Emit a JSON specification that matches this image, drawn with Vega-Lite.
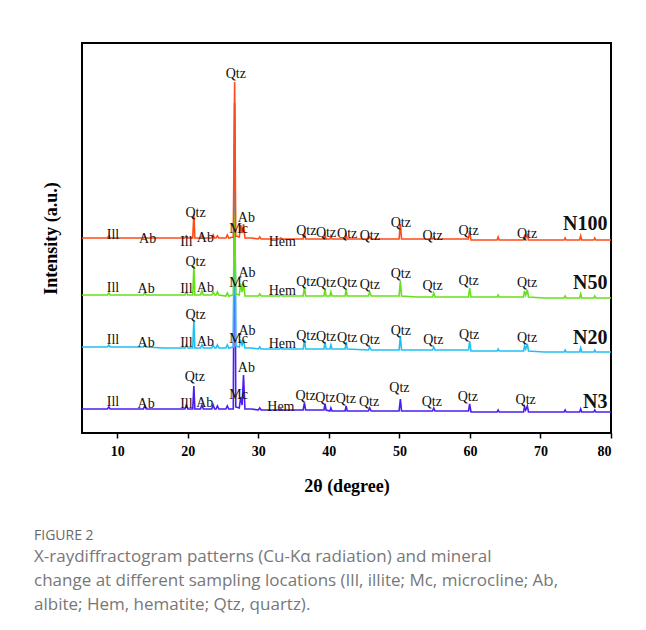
{
  "$schema": "https://vega.github.io/schema/vega-lite/v6.json",
  "width": 529,
  "height": 390,
  "autosize": {"type": "none"},
  "padding": {"left": 82, "top": 43, "right": 35, "bottom": 197},
  "background": "white",
  "config": {
    "view": {"stroke": "black", "strokeWidth": 2},
    "font": "Liberation Serif"
  },
  "title": {
    "text": "FIGURE 2",
    "subtitle": [
      "X-raydiffractogram patterns (Cu-Kα radiation) and mineral",
      "change at different sampling locations (Ill, illite; Mc, microcline; Ab,",
      "albite; Hem, hematite; Qtz, quartz)."
    ],
    "orient": "bottom",
    "anchor": "start",
    "frame": "group",
    "dx": -48,
    "offset": 34,
    "font": "Open Sans",
    "fontSize": 14,
    "fontWeight": "normal",
    "color": "#6a6a6a",
    "subtitleFont": "Open Sans",
    "subtitleFontSize": 17,
    "subtitleColor": "#777777",
    "subtitleLineHeight": 24,
    "subtitlePadding": 6
  },
  "datasets": {
    "xrd": [
      {"x": 5.0, "N3": 24, "N20": 86, "N50": 138, "N100": 195},
      {"x": 7.0, "N3": 24, "N20": 86, "N50": 138, "N100": 195},
      {"x": 8.6, "N3": 24, "N20": 86, "N50": 138, "N100": 195},
      {"x": 8.8, "N3": 26, "N20": 88, "N50": 140, "N100": 197},
      {"x": 9.0, "N3": 24, "N20": 86, "N50": 138, "N100": 195},
      {"x": 11.5, "N3": 24, "N20": 86, "N50": 138, "N100": 195},
      {"x": 13.7, "N3": 24, "N20": 86, "N50": 138, "N100": 195},
      {"x": 13.9, "N3": 27, "N20": 88, "N50": 140, "N100": 196},
      {"x": 14.1, "N3": 24, "N20": 86, "N50": 138, "N100": 195},
      {"x": 16.5, "N3": 24, "N20": 85, "N50": 138, "N100": 195},
      {"x": 19.6, "N3": 24, "N20": 85, "N50": 138, "N100": 195},
      {"x": 19.8, "N3": 28, "N20": 88, "N50": 141, "N100": 197},
      {"x": 20.0, "N3": 24, "N20": 85, "N50": 138, "N100": 195},
      {"x": 20.7, "N3": 24, "N20": 85, "N50": 138, "N100": 195},
      {"x": 20.86, "N3": 47, "N20": 113, "N50": 167, "N100": 219},
      {"x": 21.0, "N3": 24, "N20": 85, "N50": 138, "N100": 195},
      {"x": 21.8, "N3": 24, "N20": 85, "N50": 138, "N100": 195},
      {"x": 22.0, "N3": 28, "N20": 88, "N50": 142, "N100": 197},
      {"x": 22.2, "N3": 24, "N20": 85, "N50": 138, "N100": 195},
      {"x": 23.4, "N3": 24, "N20": 85, "N50": 138, "N100": 195},
      {"x": 23.6, "N3": 28, "N20": 88, "N50": 141, "N100": 198},
      {"x": 23.8, "N3": 24, "N20": 85, "N50": 138, "N100": 195},
      {"x": 24.0, "N3": 24, "N20": 85, "N50": 138, "N100": 195},
      {"x": 24.2, "N3": 27, "N20": 88, "N50": 141, "N100": 197},
      {"x": 24.4, "N3": 24, "N20": 85, "N50": 138, "N100": 195},
      {"x": 25.4, "N3": 24, "N20": 85, "N50": 137, "N100": 195},
      {"x": 25.6, "N3": 27, "N20": 88, "N50": 140, "N100": 198},
      {"x": 25.8, "N3": 24, "N20": 85, "N50": 137, "N100": 195},
      {"x": 26.45, "N3": 24, "N20": 86, "N50": 138, "N100": 196},
      {"x": 26.64, "N3": 330, "N20": 275, "N50": 220, "N100": 351},
      {"x": 26.8, "N3": 26, "N20": 87, "N50": 139, "N100": 197},
      {"x": 27.3, "N3": 25, "N20": 86, "N50": 138, "N100": 196},
      {"x": 27.5, "N3": 36, "N20": 93, "N50": 149, "N100": 208},
      {"x": 27.7, "N3": 28, "N20": 88, "N50": 141, "N100": 200},
      {"x": 27.9, "N3": 58, "N20": 93, "N50": 150, "N100": 209},
      {"x": 28.1, "N3": 24, "N20": 85, "N50": 137, "N100": 195},
      {"x": 29.0, "N3": 24, "N20": 85, "N50": 137, "N100": 195},
      {"x": 30.0, "N3": 23, "N20": 84, "N50": 137, "N100": 194},
      {"x": 30.2, "N3": 25, "N20": 86, "N50": 139, "N100": 196},
      {"x": 30.4, "N3": 23, "N20": 84, "N50": 137, "N100": 194},
      {"x": 33.0, "N3": 23, "N20": 84, "N50": 137, "N100": 194},
      {"x": 33.2, "N3": 24, "N20": 85, "N50": 138, "N100": 195},
      {"x": 33.4, "N3": 23, "N20": 84, "N50": 137, "N100": 194},
      {"x": 35.0, "N3": 23, "N20": 84, "N50": 137, "N100": 194},
      {"x": 36.35, "N3": 23, "N20": 84, "N50": 137, "N100": 194},
      {"x": 36.54, "N3": 30, "N20": 93, "N50": 146, "N100": 200},
      {"x": 36.7, "N3": 23, "N20": 84, "N50": 137, "N100": 194},
      {"x": 39.3, "N3": 23, "N20": 84, "N50": 137, "N100": 194},
      {"x": 39.46, "N3": 29, "N20": 91, "N50": 144, "N100": 198},
      {"x": 39.6, "N3": 23, "N20": 84, "N50": 137, "N100": 194},
      {"x": 40.15, "N3": 22, "N20": 84, "N50": 137, "N100": 194},
      {"x": 40.29, "N3": 25, "N20": 88, "N50": 141, "N100": 197},
      {"x": 40.45, "N3": 22, "N20": 84, "N50": 137, "N100": 194},
      {"x": 42.3, "N3": 22, "N20": 84, "N50": 137, "N100": 194},
      {"x": 42.45, "N3": 27, "N20": 91, "N50": 144, "N100": 198},
      {"x": 42.6, "N3": 22, "N20": 84, "N50": 137, "N100": 194},
      {"x": 45.6, "N3": 22, "N20": 83, "N50": 137, "N100": 194},
      {"x": 45.79, "N3": 25, "N20": 86, "N50": 141, "N100": 196},
      {"x": 46.0, "N3": 22, "N20": 83, "N50": 137, "N100": 194},
      {"x": 48.0, "N3": 22, "N20": 83, "N50": 137, "N100": 194},
      {"x": 49.95, "N3": 22, "N20": 83, "N50": 137, "N100": 194},
      {"x": 50.14, "N3": 34, "N20": 97, "N50": 152, "N100": 209},
      {"x": 50.3, "N3": 22, "N20": 83, "N50": 137, "N100": 194},
      {"x": 52.5, "N3": 22, "N20": 83, "N50": 136, "N100": 194},
      {"x": 54.7, "N3": 22, "N20": 83, "N50": 136, "N100": 194},
      {"x": 54.87, "N3": 25, "N20": 86, "N50": 140, "N100": 196},
      {"x": 55.05, "N3": 22, "N20": 83, "N50": 136, "N100": 194},
      {"x": 57.5, "N3": 22, "N20": 83, "N50": 136, "N100": 194},
      {"x": 59.8, "N3": 22, "N20": 83, "N50": 136, "N100": 194},
      {"x": 59.96, "N3": 29, "N20": 92, "N50": 145, "N100": 202},
      {"x": 60.15, "N3": 21, "N20": 82, "N50": 136, "N100": 193},
      {"x": 62.0, "N3": 21, "N20": 82, "N50": 136, "N100": 193},
      {"x": 63.85, "N3": 21, "N20": 82, "N50": 136, "N100": 193},
      {"x": 64.0, "N3": 23, "N20": 84, "N50": 138, "N100": 196},
      {"x": 64.15, "N3": 21, "N20": 82, "N50": 136, "N100": 193},
      {"x": 66.0, "N3": 21, "N20": 82, "N50": 136, "N100": 193},
      {"x": 67.6, "N3": 21, "N20": 82, "N50": 136, "N100": 193},
      {"x": 67.74, "N3": 26, "N20": 87, "N50": 142, "N100": 197},
      {"x": 67.9, "N3": 23, "N20": 84, "N50": 138, "N100": 195},
      {"x": 68.14, "N3": 27, "N20": 89, "N50": 143, "N100": 198},
      {"x": 68.3, "N3": 21, "N20": 82, "N50": 136, "N100": 193},
      {"x": 70.5, "N3": 21, "N20": 81, "N50": 135, "N100": 193},
      {"x": 73.35, "N3": 21, "N20": 81, "N50": 135, "N100": 193},
      {"x": 73.5, "N3": 23, "N20": 83, "N50": 137, "N100": 195},
      {"x": 73.65, "N3": 21, "N20": 81, "N50": 135, "N100": 193},
      {"x": 75.55, "N3": 21, "N20": 81, "N50": 135, "N100": 193},
      {"x": 75.7, "N3": 24, "N20": 85, "N50": 139, "N100": 197},
      {"x": 75.85, "N3": 21, "N20": 81, "N50": 135, "N100": 193},
      {"x": 77.55, "N3": 21, "N20": 81, "N50": 135, "N100": 193},
      {"x": 77.7, "N3": 23, "N20": 83, "N50": 137, "N100": 195},
      {"x": 77.85, "N3": 21, "N20": 81, "N50": 135, "N100": 193},
      {"x": 80.0, "N3": 21, "N20": 81, "N50": 135, "N100": 193}
    ],
    "labels": [
      {"x": 26.8, "y": 359, "t": "Qtz"},
      {"x": 21.1, "y": 220, "t": "Qtz"},
      {"x": 28.3, "y": 215, "t": "Ab"},
      {"x": 27.2, "y": 204, "t": "Mc"},
      {"x": 9.4, "y": 198, "t": "Ill"},
      {"x": 14.3, "y": 194, "t": "Ab"},
      {"x": 19.8, "y": 191, "t": "Ill"},
      {"x": 22.5, "y": 195, "t": "Ab"},
      {"x": 33.4, "y": 191, "t": "Hem"},
      {"x": 36.8, "y": 202, "t": "Qtz"},
      {"x": 39.6, "y": 200, "t": "Qtz"},
      {"x": 42.6, "y": 199, "t": "Qtz"},
      {"x": 45.8, "y": 197, "t": "Qtz"},
      {"x": 50.2, "y": 210, "t": "Qtz"},
      {"x": 54.7, "y": 197, "t": "Qtz"},
      {"x": 59.8, "y": 202, "t": "Qtz"},
      {"x": 68.1, "y": 199, "t": "Qtz"},
      {"x": 21.1, "y": 171, "t": "Qtz"},
      {"x": 9.4, "y": 145, "t": "Ill"},
      {"x": 14.1, "y": 144, "t": "Ab"},
      {"x": 19.8, "y": 144, "t": "Ill"},
      {"x": 22.5, "y": 145, "t": "Ab"},
      {"x": 27.2, "y": 150, "t": "Mc"},
      {"x": 28.4, "y": 160, "t": "Ab"},
      {"x": 33.4, "y": 142, "t": "Hem"},
      {"x": 36.8, "y": 151, "t": "Qtz"},
      {"x": 39.6, "y": 150, "t": "Qtz"},
      {"x": 42.6, "y": 150, "t": "Qtz"},
      {"x": 45.8, "y": 148, "t": "Qtz"},
      {"x": 50.2, "y": 159, "t": "Qtz"},
      {"x": 54.7, "y": 147, "t": "Qtz"},
      {"x": 59.8, "y": 152, "t": "Qtz"},
      {"x": 68.1, "y": 150, "t": "Qtz"},
      {"x": 21.1, "y": 118, "t": "Qtz"},
      {"x": 9.4, "y": 93, "t": "Ill"},
      {"x": 14.1, "y": 90, "t": "Ab"},
      {"x": 19.8, "y": 90, "t": "Ill"},
      {"x": 22.5, "y": 91, "t": "Ab"},
      {"x": 27.2, "y": 94, "t": "Mc"},
      {"x": 28.4, "y": 102, "t": "Ab"},
      {"x": 33.4, "y": 89, "t": "Hem"},
      {"x": 36.8, "y": 97, "t": "Qtz"},
      {"x": 39.6, "y": 96, "t": "Qtz"},
      {"x": 42.6, "y": 95, "t": "Qtz"},
      {"x": 45.8, "y": 93, "t": "Qtz"},
      {"x": 50.2, "y": 102, "t": "Qtz"},
      {"x": 54.8, "y": 93, "t": "Qtz"},
      {"x": 59.9, "y": 98, "t": "Qtz"},
      {"x": 68.1, "y": 95, "t": "Qtz"},
      {"x": 21.0, "y": 56, "t": "Qtz"},
      {"x": 9.4, "y": 31, "t": "Ill"},
      {"x": 14.1, "y": 29, "t": "Ab"},
      {"x": 19.8, "y": 29, "t": "Ill"},
      {"x": 22.4, "y": 30, "t": "Ab"},
      {"x": 27.2, "y": 38, "t": "Mc"},
      {"x": 28.3, "y": 65, "t": "Ab"},
      {"x": 33.2, "y": 26, "t": "Hem"},
      {"x": 36.7, "y": 37, "t": "Qtz"},
      {"x": 39.5, "y": 35, "t": "Qtz"},
      {"x": 42.4, "y": 34, "t": "Qtz"},
      {"x": 45.7, "y": 31, "t": "Qtz"},
      {"x": 50.0, "y": 45, "t": "Qtz"},
      {"x": 54.6, "y": 31, "t": "Qtz"},
      {"x": 59.7, "y": 36, "t": "Qtz"},
      {"x": 67.9, "y": 33, "t": "Qtz"}
    ],
    "names": [
      {"x": 79.5, "y": 209, "t": "N100"},
      {"x": 79.5, "y": 150, "t": "N50"},
      {"x": 79.5, "y": 95, "t": "N20"},
      {"x": 79.5, "y": 31, "t": "N3"}
    ]
  },
  "layer": [
    {
      "data": {"name": "xrd"},
      "transform": [
        {"fold": ["N3", "N20", "N50", "N100"], "as": ["sample", "intensity"]},
        {"filter": "datum.sample === 'N3'"}
      ],
      "mark": {"type": "line", "color": "#4a1ef0", "strokeWidth": 1.6},
      "encoding": {
        "x": {"field": "x", "type": "quantitative", "scale": {"domain": [5, 80], "nice": false},
          "axis": {"values": [10, 15, 20, 25, 30, 35, 40, 45, 50, 55, 60, 65, 70, 75, 80],
            "labelExpr": "datum.value % 10 === 0 ? datum.label : ''",
            "title": "2θ (degree)", "grid": false, "domain": false,
            "tickColor": "black",
            "tickSize": {"condition": {"test": "datum.value % 10 === 0", "value": 5}, "value": 3},
            "tickWidth": 1.5, "labelFont": "Liberation Serif", "labelFontWeight": "bold",
            "labelFontSize": 14, "labelColor": "black", "labelPadding": 6, "labelOverlap": false,
            "titleFont": "Liberation Serif",
            "titleFontWeight": "bold", "titleFontSize": 18, "titleColor": "black", "titlePadding": 19}},
        "y": {"field": "intensity", "type": "quantitative", "scale": {"domain": [0, 390], "nice": false},
          "axis": {"title": "Intensity (a.u.)", "labels": false, "ticks": false, "grid": false, "domain": false,
            "titleFont": "Liberation Serif", "titleFontWeight": "bold", "titleFontSize": 18, "titleColor": "black", "titlePadding": 22}}
      }
    },
    {
      "data": {"name": "xrd"},
      "transform": [
        {"fold": ["N3", "N20", "N50", "N100"], "as": ["sample", "intensity"]},
        {"filter": "datum.sample === 'N20'"}
      ],
      "mark": {"type": "line", "color": "#22c0f2", "strokeWidth": 1.6},
      "encoding": {
        "x": {"field": "x", "type": "quantitative"},
        "y": {"field": "intensity", "type": "quantitative"}
      }
    },
    {
      "data": {"name": "xrd"},
      "transform": [
        {"fold": ["N3", "N20", "N50", "N100"], "as": ["sample", "intensity"]},
        {"filter": "datum.sample === 'N50'"}
      ],
      "mark": {"type": "line", "color": "#66e01a", "strokeWidth": 1.6},
      "encoding": {
        "x": {"field": "x", "type": "quantitative"},
        "y": {"field": "intensity", "type": "quantitative"}
      }
    },
    {
      "data": {"name": "xrd"},
      "transform": [
        {"fold": ["N3", "N20", "N50", "N100"], "as": ["sample", "intensity"]},
        {"filter": "datum.sample === 'N100'"}
      ],
      "mark": {"type": "line", "color": "#ff4a1a", "strokeWidth": 1.6},
      "encoding": {
        "x": {"field": "x", "type": "quantitative"},
        "y": {"field": "intensity", "type": "quantitative"}
      }
    },
    {
      "data": {"name": "labels"},
      "mark": {"type": "text", "font": "Liberation Serif", "fontSize": 14, "color": "#111", "baseline": "middle", "align": "center"},
      "encoding": {
        "x": {"field": "x", "type": "quantitative"},
        "y": {"field": "y", "type": "quantitative"},
        "text": {"field": "t"}
      }
    },
    {
      "data": {"name": "names"},
      "mark": {"type": "text", "font": "Liberation Serif", "fontSize": 20, "fontWeight": "bold", "color": "#111", "baseline": "middle", "align": "right"},
      "encoding": {
        "x": {"field": "x", "type": "quantitative"},
        "y": {"field": "y", "type": "quantitative"},
        "text": {"field": "t"}
      }
    }
  ]
}
